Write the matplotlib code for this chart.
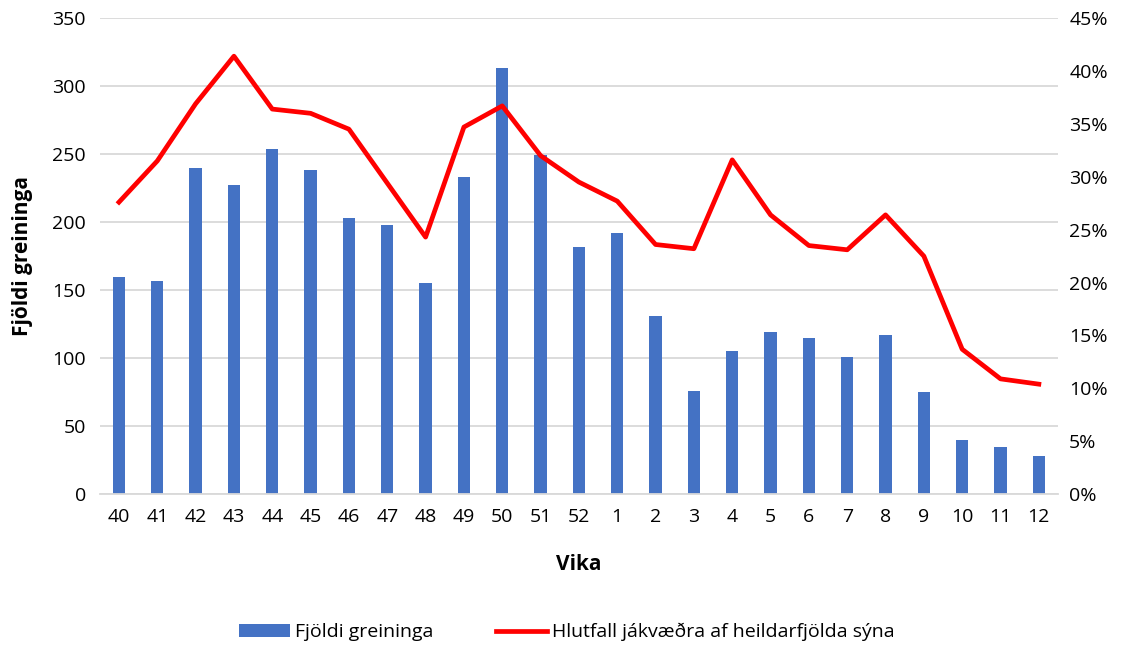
import matplotlib.pyplot as plt
import numpy as np
from matplotlib.ticker import FuncFormatter

plt.rcParams['font.family'] = ['Open Sans', 'DejaVu Sans']

# week numbers (autumn 2020 -> spring 2021)
weeks = ["40", "41", "42", "43", "44", "45", "46", "47", "48", "49", "50", "51", "52",
         "1", "2", "3", "4", "5", "6", "7", "8", "9", "10", "11", "12"]
counts = [160, 157, 240, 227, 254, 238, 203, 198, 155, 233, 313, 249, 182,
          192, 131, 76, 105, 119, 115, 101, 117, 75, 40, 35, 28]
positive_share = [27.6, 31.5, 36.9, 41.4, 36.4, 36.0, 34.5, 29.4, 24.3, 34.7, 36.7, 32.0, 29.5,
                  27.7, 23.6, 23.2, 31.6, 26.4, 23.5, 23.1, 26.4, 22.5, 13.7, 10.9, 10.4]

x = np.arange(len(weeks))
grid_col = "#D9D9D9"
text_col = "#000000"

fig = plt.figure(figsize=(11.34, 6.46), dpi=100)
ax = fig.add_axes([0.088, 0.235, 0.845, 0.737])
ax2 = ax.twinx()

bars = ax.bar(x, counts, width=0.32, color="#4472C4", zorder=2, label="Fjöldi greininga")
line, = ax2.plot(x, positive_share, color="#FF0000", linewidth=3.4, zorder=3,
                 label="Hlutfall jákvæðra af heildarfjölda sýna")

ax.set_xlim(-0.5, len(weeks) - 0.5)
ax.set_ylim(0, 350)
ax.set_yticks(np.arange(0, 351, 50))
ax2.set_ylim(0, 45)
ax2.set_yticks(np.arange(0, 46, 5))
ax2.yaxis.set_major_formatter(FuncFormatter(lambda v, p: f"{int(v)}%"))

ax.set_xticks(x)
ax.set_xticklabels(weeks)
ax.yaxis.grid(True, color=grid_col, linewidth=1.3, zorder=0)
ax.set_axisbelow(True)

for a in (ax, ax2):
    for s in a.spines.values():
        s.set_visible(False)
    a.tick_params(length=0, labelsize=14, colors=text_col)
ax.spines['bottom'].set_visible(True)
ax.spines['bottom'].set_color(grid_col)
ax.spines['bottom'].set_linewidth(1.3)
ax.tick_params(axis='x', pad=10)
ax.tick_params(axis='y', pad=10)
ax2.tick_params(axis='y', pad=8)

ax.set_xlabel("Vika", fontsize=15, fontweight="bold", labelpad=20)
ax.set_ylabel("Fjöldi greininga", fontsize=15, fontweight="bold", labelpad=14)

ax2.set_zorder(ax.get_zorder() + 1)
ax2.patch.set_visible(False)

fig.legend(handles=[bars, line], loc="lower center", bbox_to_anchor=(0.5, -0.02),
           ncol=2, frameon=False, fontsize=14, handlelength=2.6, columnspacing=3.2,
           handletextpad=0.3)

fig.savefig("out.png", dpi=100)
